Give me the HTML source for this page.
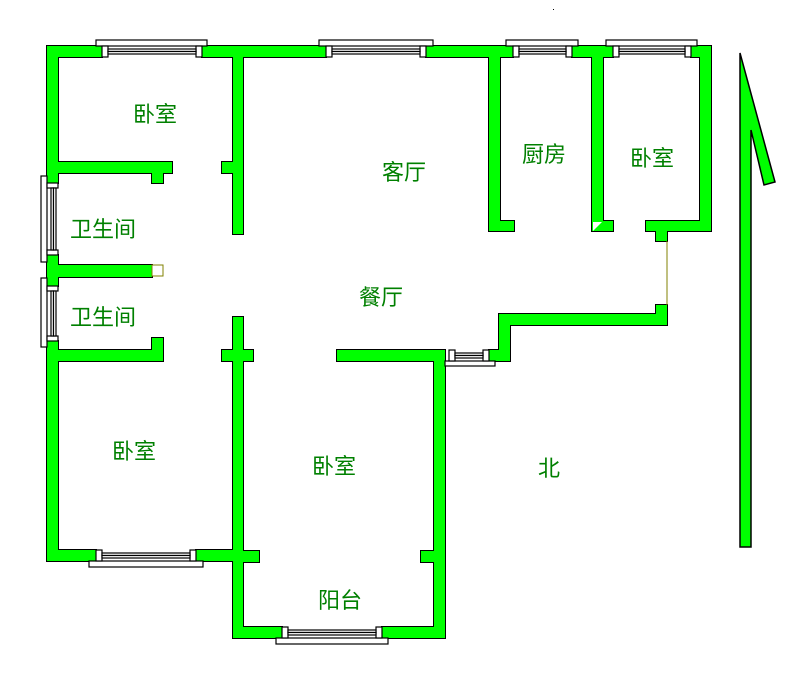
<!DOCTYPE html>
<html><head><meta charset="utf-8"><style>
html,body{margin:0;padding:0;background:#fff;width:799px;height:678px;overflow:hidden}
text{font-family:"Liberation Sans","Noto Sans CJK SC","WenQuanYi Zen Hei",sans-serif;font-size:22px;fill:#008000}
</style></head><body>
<svg width="799" height="678" viewBox="0 0 799 678" xmlns="http://www.w3.org/2000/svg">
<defs>
<g id="walls">
<rect x="47" y="46" width="55" height="11"/>
<rect x="202" y="46" width="124" height="11"/>
<rect x="426" y="46" width="87" height="11"/>
<rect x="572" y="46" width="41" height="11"/>
<rect x="691" y="46" width="20" height="11"/>
<rect x="47" y="46" width="11" height="137"/>
<rect x="47" y="255" width="11" height="31"/>
<rect x="47" y="341" width="11" height="220"/>
<rect x="233" y="46" width="10" height="188"/>
<rect x="222" y="162" width="21" height="11"/>
<rect x="47" y="162" width="125" height="11"/>
<rect x="152" y="162" width="11" height="21"/>
<rect x="47" y="265" width="105" height="12"/>
<rect x="47" y="350" width="116" height="11"/>
<rect x="152" y="338" width="11" height="23"/>
<rect x="233" y="317" width="10" height="321"/>
<rect x="222" y="350" width="31" height="11"/>
<rect x="233" y="551" width="26" height="11"/>
<rect x="47" y="550" width="49" height="11"/>
<rect x="196" y="550" width="47" height="11"/>
<rect x="233" y="627" width="49" height="11"/>
<rect x="382" y="627" width="63" height="11"/>
<rect x="434" y="350" width="11" height="288"/>
<rect x="421" y="551" width="24" height="11"/>
<rect x="337" y="350" width="108" height="11"/>
<rect x="489" y="46" width="11" height="185"/>
<rect x="489" y="221" width="25" height="10"/>
<rect x="592" y="46" width="11" height="185"/>
<rect x="592" y="221" width="21" height="10"/>
<rect x="700" y="46" width="11" height="185"/>
<rect x="646" y="221" width="65" height="10"/>
<rect x="656" y="221" width="11" height="20"/>
<rect x="656" y="305" width="11" height="20"/>
<rect x="499" y="314" width="168" height="11"/>
<rect x="499" y="314" width="11" height="47"/>
<rect x="489" y="350" width="21" height="11"/>
</g>
</defs>
<g stroke="#000" stroke-width="2" fill="#000"><use href="#walls"/></g>
<g fill="#00ff00" stroke="none"><use href="#walls"/></g>

<g fill="#fff" stroke="#000" stroke-width="1.2">
<rect x="96" y="40" width="111" height="6"/>
<rect x="102" y="46" width="6" height="11"/><rect x="196" y="46" width="6" height="11"/>
<rect x="108" y="49" width="88" height="2.5"/><rect x="108" y="51.5" width="88" height="2.5"/>
<rect x="319" y="40" width="114" height="6"/>
<rect x="326" y="46" width="6" height="11"/><rect x="420" y="46" width="6" height="11"/>
<rect x="332" y="49" width="88" height="2.5"/><rect x="332" y="51.5" width="88" height="2.5"/>
<rect x="506" y="40" width="72" height="6"/>
<rect x="513" y="46" width="6" height="11"/><rect x="566" y="46" width="6" height="11"/>
<rect x="519" y="49" width="47" height="2.5"/><rect x="519" y="51.5" width="47" height="2.5"/>
<rect x="606" y="40" width="91" height="6"/>
<rect x="613" y="46" width="6" height="11"/><rect x="685" y="46" width="6" height="11"/>
<rect x="619" y="49" width="66" height="2.5"/><rect x="619" y="51.5" width="66" height="2.5"/>
<rect x="41" y="176" width="6" height="86"/>
<rect x="47" y="183" width="11" height="5"/><rect x="47" y="250" width="11" height="5"/>
<rect x="51" y="188" width="2.5" height="62"/><rect x="53.5" y="188" width="2.5" height="62"/>
<rect x="41" y="278" width="6" height="69"/>
<rect x="47" y="286" width="11" height="5"/><rect x="47" y="336" width="11" height="5"/>
<rect x="51" y="291" width="2.5" height="45"/><rect x="53.5" y="291" width="2.5" height="45"/>
<rect x="89" y="561" width="114" height="6"/>
<rect x="96" y="550" width="6" height="11"/><rect x="190" y="550" width="6" height="11"/>
<rect x="102" y="553" width="88" height="2.5"/><rect x="102" y="555.5" width="88" height="2.5"/>
<rect x="276" y="638" width="112" height="6"/>
<rect x="282" y="627" width="6" height="11"/><rect x="376" y="627" width="6" height="11"/>
<rect x="288" y="630" width="88" height="2.5"/><rect x="288" y="632.5" width="88" height="2.5"/>
<rect x="445" y="361" width="50" height="5"/>
<rect x="449" y="350" width="6" height="11"/><rect x="483" y="350" width="6" height="11"/>
<rect x="455" y="353" width="28" height="2.5"/><rect x="455" y="355.5" width="28" height="2.5"/>
</g>
<rect x="152" y="265" width="11" height="11" fill="#fff" stroke="#808000" stroke-width="1"/>
<polygon points="593,231 593,222 602,222" fill="#fff"/>
<line x1="667" y1="241" x2="667" y2="305" stroke="#808000" stroke-width="1"/>

<polygon points="740,53 775,182 764,185 751,130 751,547 740,547" fill="#00ff00" stroke="#000" stroke-width="1.5"/>
<rect x="553" y="9" width="1" height="1" fill="#000"/>

<text x="155" y="122" text-anchor="middle">卧室</text>
<text x="404" y="180" text-anchor="middle">客厅</text>
<text x="544" y="162" text-anchor="middle">厨房</text>
<text x="652" y="166" text-anchor="middle">卧室</text>
<text x="103" y="237" text-anchor="middle">卫生间</text>
<text x="103" y="325" text-anchor="middle">卫生间</text>
<text x="381" y="305" text-anchor="middle">餐厅</text>
<text x="134" y="459" text-anchor="middle">卧室</text>
<text x="334" y="474" text-anchor="middle">卧室</text>
<text x="549" y="476" text-anchor="middle">北</text>
<text x="340" y="608" text-anchor="middle">阳台</text>
</svg>
</body></html>
